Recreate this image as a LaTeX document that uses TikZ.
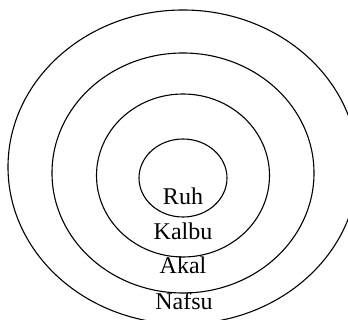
\documentclass[tikz,border=0pt]{standalone}
\usepackage{fontspec}
\setmainfont{Liberation Serif}
\usetikzlibrary{positioning}

\begin{document}
\begin{tikzpicture}[
  x=1pt, y=-1pt,
  ring/.style={draw=black, line width=1.1pt},
  layer/.style={anchor=base, inner sep=0pt, font=\fontsize{24}{28}\selectfont},
]
\useasboundingbox (0,0) rectangle (348,320);
\clip (0,0) rectangle (348,320);

% --- Lingkaran ---
\draw[ring] (183,167) ellipse [x radius=175, y radius=157];
\draw[ring] (183,173) ellipse [x radius=131, y radius=120];
\draw[ring] (183,175.5) ellipse [x radius=86.5, y radius=81.5];
\draw[ring] (183,178) ellipse [x radius=44, y radius=39];

% --- Label ---
\node[layer] (ruh)   at (183,205) {Ruh};
\node[layer] (kalbu) at (183,240) {Kalbu};
\node[layer] (akal)  at (183,274) {Akal};
\node[layer] (nafsu) at (184,309) {Nafsu};

\end{tikzpicture}
\end{document}
